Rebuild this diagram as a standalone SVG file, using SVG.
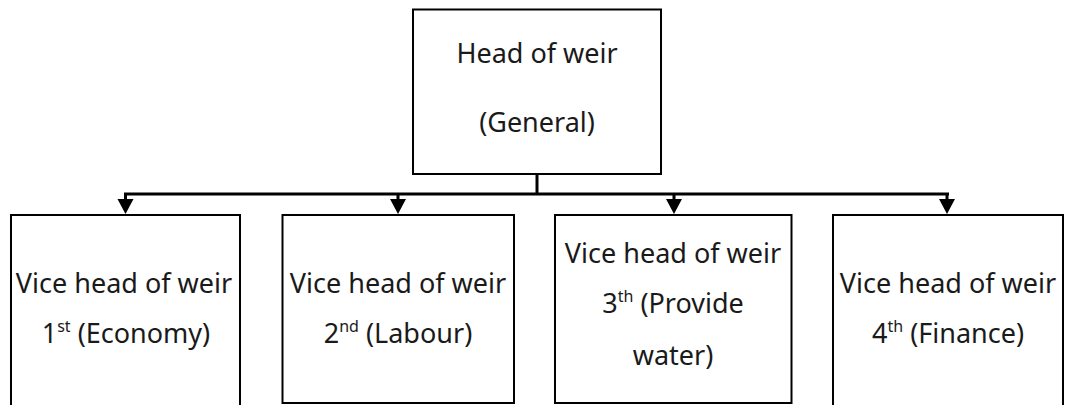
<svg xmlns="http://www.w3.org/2000/svg" width="1067" height="405" viewBox="0 0 1067 405">
<style>
.box{fill:#fff;stroke:#000;stroke-width:2}
.t{font-family:"Noto Sans","Open Sans",sans-serif;font-size:27px;fill:#1a1a1a;text-anchor:middle}
.sup{font-size:16px}
.c{fill:none;stroke:#000;stroke-width:3}
</style>
<defs>
<path id="ah" d="M0,0 L16,0 L8,15 Z" fill="#000"/>
</defs>
<rect width="1067" height="405" fill="#fff"/>
<g id="connectors">
<line class="c" x1="537" y1="174" x2="537" y2="194"/>
<line class="c" x1="124" y1="194" x2="949" y2="194"/>
<use href="#ah" x="117.5" y="199"/>
<use href="#ah" x="390" y="199"/>
<use href="#ah" x="666" y="199"/>
<use href="#ah" x="939" y="199"/>
<line class="c" x1="125.5" y1="194" x2="125.5" y2="200"/>
<line class="c" x1="398" y1="194" x2="398" y2="200"/>
<line class="c" x1="674" y1="194" x2="674" y2="200"/>
<line class="c" x1="947" y1="194" x2="947" y2="200"/>
</g>
<g id="head">
<rect class="box" x="413" y="9.5" width="248" height="164.5"/>
<text class="t" x="537" y="63">Head of weir</text>
<text class="t" x="537" y="132">(General)</text>
</g>
<g id="vice1">
<rect class="box" x="11" y="215" width="229" height="200"/>
<text class="t" x="124" y="293">Vice head of weir</text>
<text class="t" x="126" y="343">1<tspan class="sup" dy="-11">st</tspan><tspan dy="11"> (Economy)</tspan></text>
</g>
<g id="vice2">
<rect class="box" x="282.5" y="215" width="231.5" height="188"/>
<text class="t" x="398" y="293">Vice head of weir</text>
<text class="t" x="398" y="343">2<tspan class="sup" dy="-11">nd</tspan><tspan dy="11"> (Labour)</tspan></text>
</g>
<g id="vice3">
<rect class="box" x="555" y="215" width="236.5" height="188"/>
<text class="t" x="673" y="263">Vice head of weir</text>
<text class="t" x="673" y="313">3<tspan class="sup" dy="-11">th</tspan><tspan dy="11"> (Provide</tspan></text>
<text class="t" x="673" y="365">water)</text>
</g>
<g id="vice4">
<rect class="box" x="833" y="215" width="230" height="200"/>
<text class="t" x="948" y="293">Vice head of weir</text>
<text class="t" x="948" y="343">4<tspan class="sup" dy="-11">th</tspan><tspan dy="11"> (Finance)</tspan></text>
</g>
</svg>
